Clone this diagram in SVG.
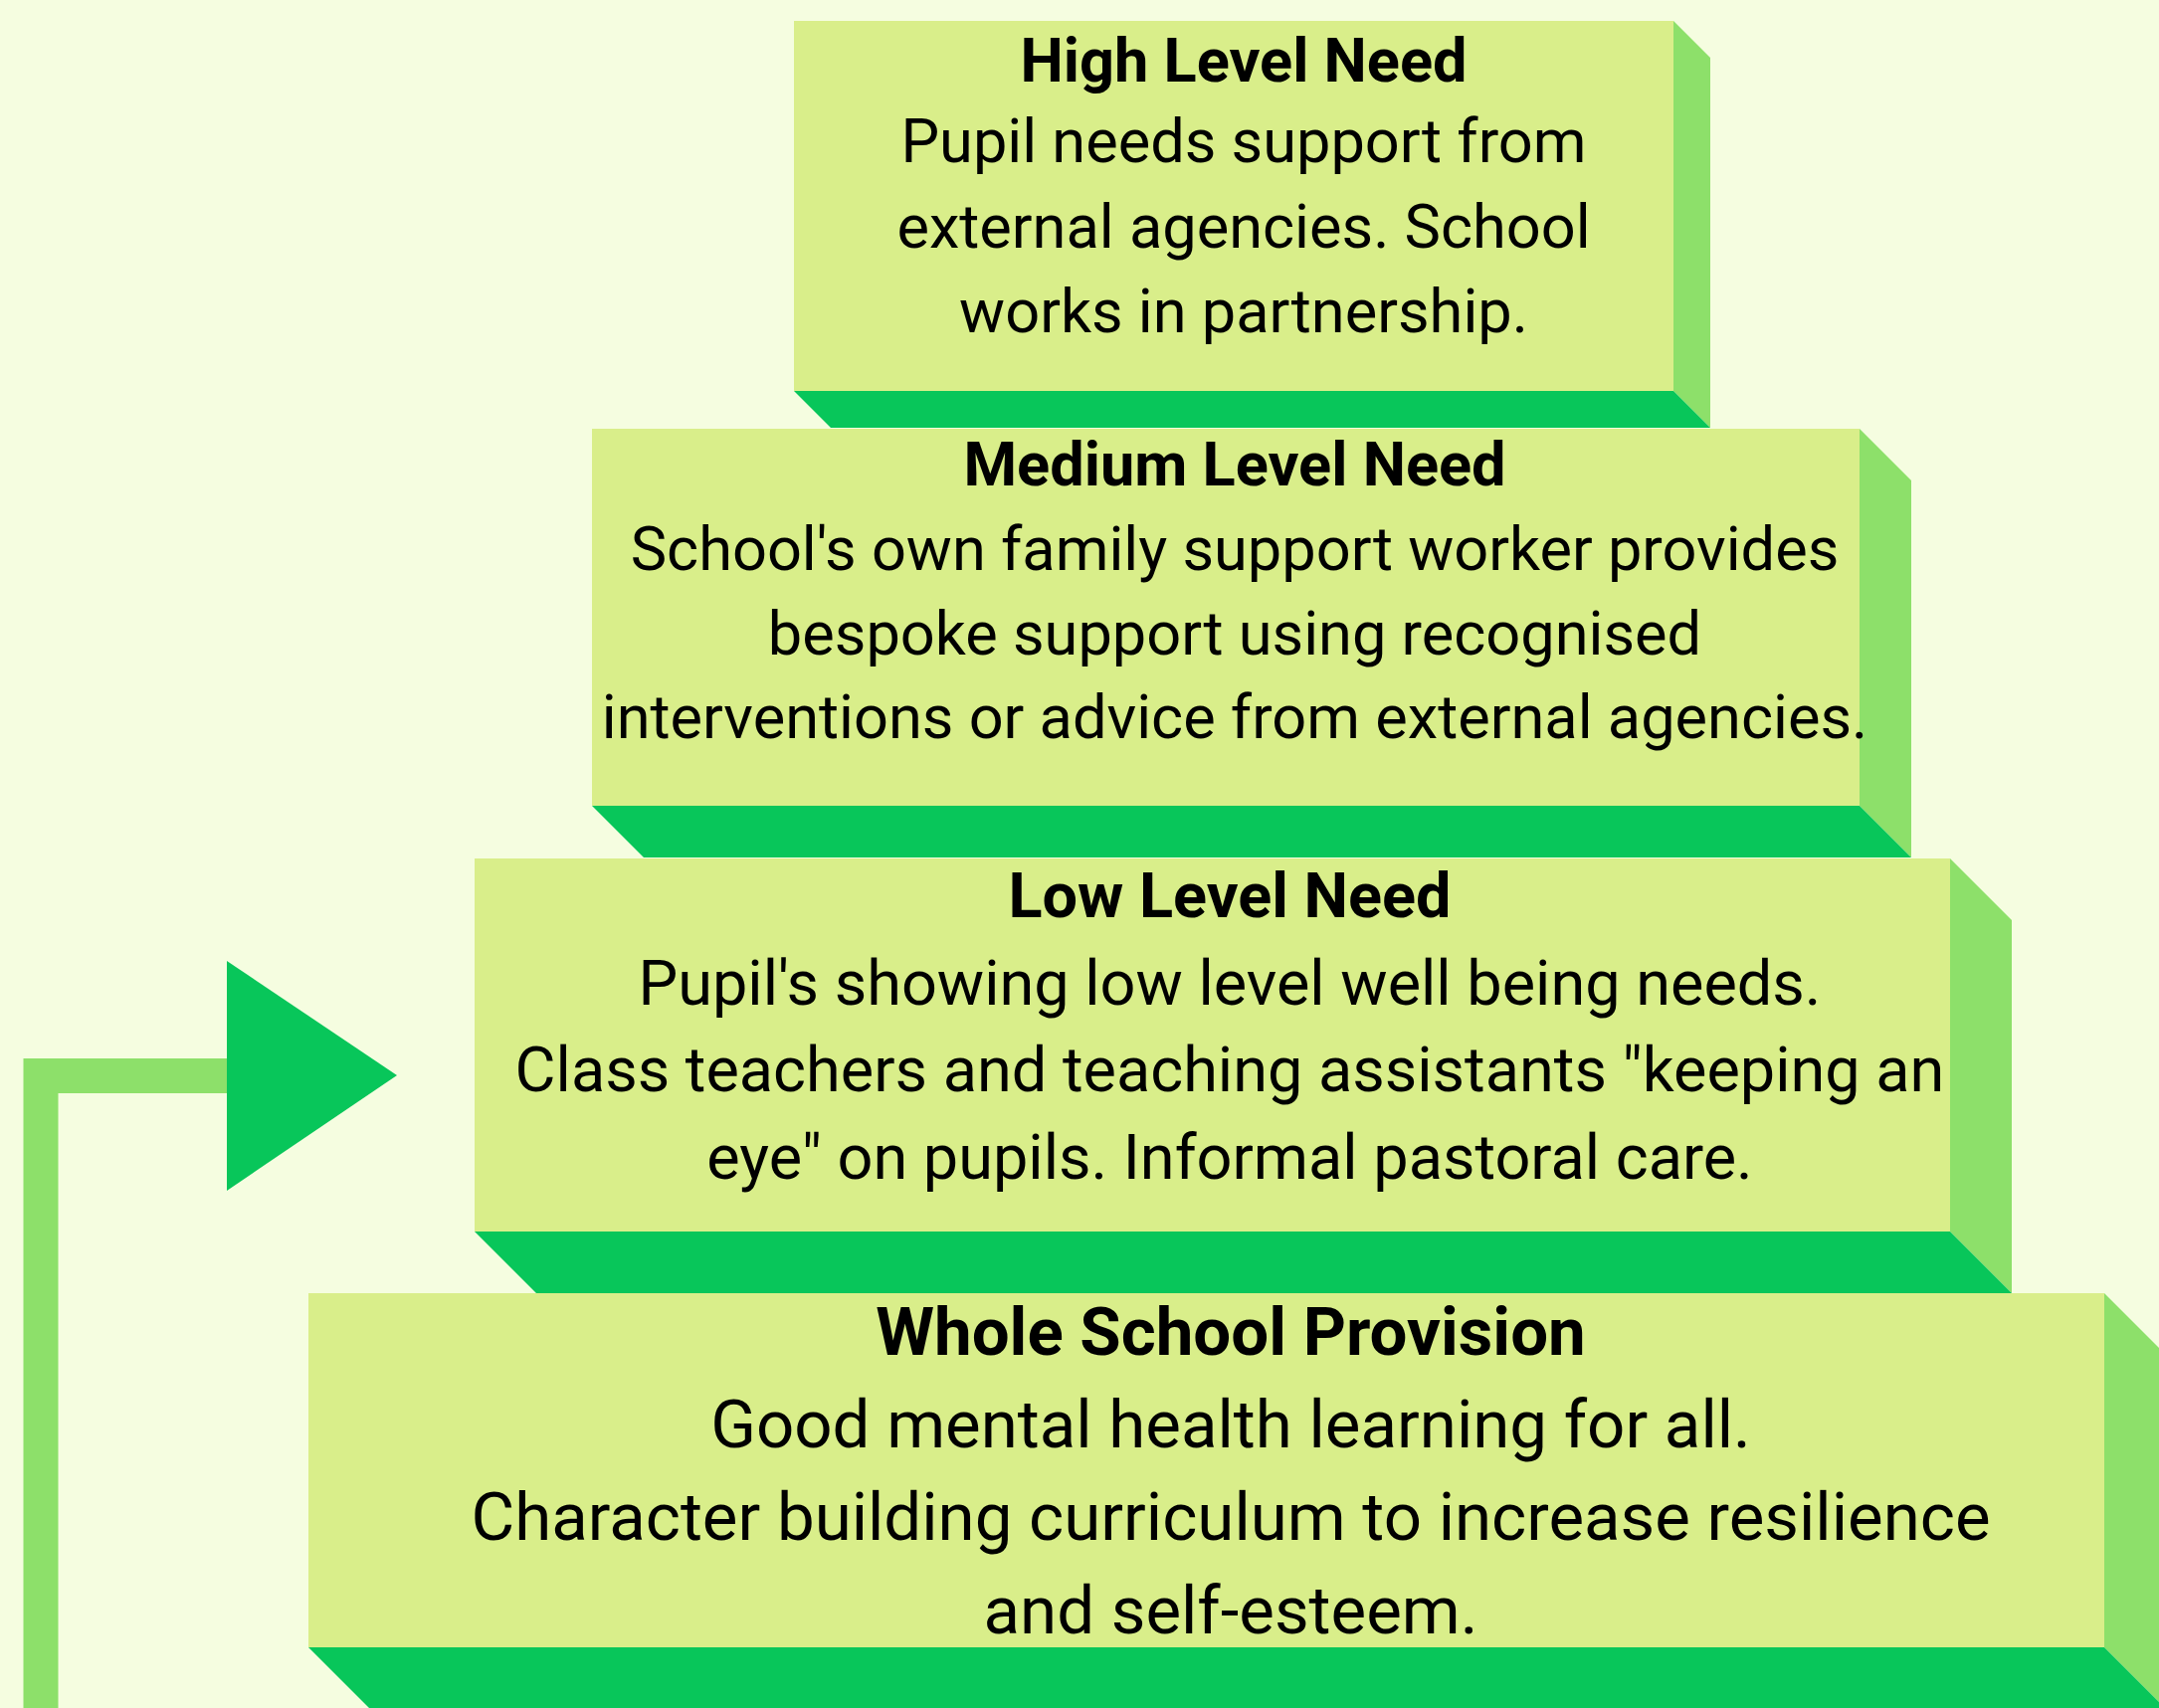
<svg xmlns="http://www.w3.org/2000/svg" width="2170" height="1717" viewBox="0 0 2170 1717">
<style>
.face{fill:#D9EE8A}
.band{fill:#08C65A}
.side{fill:#8DE06A}
.conn{fill:none;stroke:#8DE06A;stroke-width:35;stroke-linejoin:miter}
.head{fill:#08C65A}
text{font-family:Roboto,"Liberation Sans",sans-serif;fill:#000;text-anchor:middle}
.t{font-weight:bold}
</style>
<rect width="2170" height="1717" fill="#F5FDE0"/>
<g id="high">
<rect class="face" x="798" y="21" width="884" height="372"/>
<polygon class="side" points="1682,21 1719,58 1719,430 1682,393"/>
<polygon class="band" points="798,393 1682,393 1719,430 835,430"/>
<g font-size="61.3">
<text class="t" x="1250" y="82">High Level Need</text>
<text x="1250" y="163">Pupil needs support from</text>
<text x="1250" y="249">external agencies. School</text>
<text x="1250" y="334">works in partnership.</text>
</g>
</g>
<g id="medium">
<rect class="face" x="595" y="431" width="1274" height="379"/>
<polygon class="side" points="1869,431 1921,483 1921,862 1869,810"/>
<polygon class="band" points="595,810 1869,810 1921,862 647,862"/>
<g font-size="61.3">
<text class="t" x="1241" y="488">Medium Level Need</text>
<text x="1241" y="573">School's own family support worker provides</text>
<text x="1241" y="658">bespoke support using recognised</text>
<text x="1241" y="742">interventions or advice from external agencies.</text>
</g>
</g>
<g id="low">
<rect class="face" x="477" y="863" width="1483" height="375"/>
<polygon class="side" points="1960,863 2022,925 2022,1300 1960,1238"/>
<polygon class="band" points="477,1238 1960,1238 2022,1300 539,1300"/>
<g font-size="63">
<text class="t" x="1236" y="922">Low Level Need</text>
<text x="1236" y="1010">Pupil's showing low level well being needs.</text>
<text x="1236" y="1097">Class teachers and teaching assistants "keeping an</text>
<text x="1236" y="1185">eye" on pupils. Informal pastoral care.</text>
</g>
</g>
<g id="whole">
<rect class="face" x="310" y="1300" width="1805" height="356"/>
<polygon class="side" points="2115,1300 2177,1362 2177,1718 2115,1656"/>
<polygon class="band" points="310,1656 2115,1656 2177,1718 372,1718"/>
<g font-size="67.2">
<text class="t" x="1237" y="1362">Whole School Provision</text>
<text x="1237" y="1455">Good mental health learning for all.</text>
<text x="1237" y="1548">Character building curriculum to increase resilience</text>
<text x="1237" y="1642">and self-esteem.</text>
</g>
</g>
<g id="connectors">
<path class="conn" d="M41,1717 V1081.5 H230"/>
<polygon class="head" points="228,966 399,1081 228,1197"/>
</g>
</svg>
